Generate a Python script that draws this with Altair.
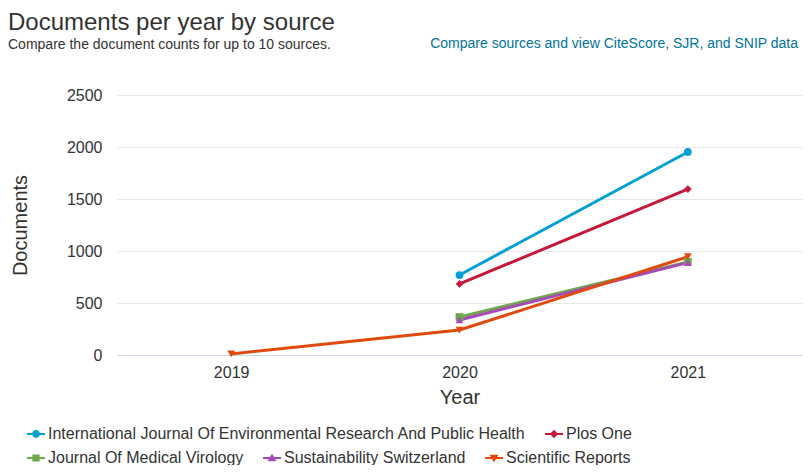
import altair as alt
import pandas as pd

sources = [
    "International Journal Of Environmental Research And Public Health",
    "Plos One",
    "Journal Of Medical Virology",
    "Sustainability Switzerland",
    "Scientific Reports",
]
colors = ["#009fd4", "#c5183a", "#6fa84b", "#a64ab8", "#e04a0f"]
shapes = ["circle", "diamond", "square", "triangle-up", "triangle-down"]
years = ["2019", "2020", "2021"]

ijerph = [None, 769, 1952]
plos = [None, 683, 1596]
jmv = [None, 365, 895]
sust = [None, 337, 888]
scirep = [10, 240, 945]

title_text = "Documents per year by source"
subtitle_text = "Compare the document counts for up to 10 sources."
link_text = "Compare sources and view CiteScore, SJR, and SNIP data"

series = [ijerph, plos, jmv, sust, scirep]
rows = []
for s, vals in zip(sources, series):
    for y, v in zip(years, vals):
        if v is not None:
            rows.append({"Source": s, "Year": y, "Documents": v})
df = pd.DataFrame(rows)

bar = "M-1.5,-0.17H1.5V0.17H-1.5Z "
leg_paths = [
    bar + "M0.65,0A0.65,0.65 0 1,1 -0.65,0A0.65,0.65 0 1,1 0.65,0Z",
    bar + "M0,-0.7L0.7,0L0,0.7L-0.7,0Z",
    bar + "M-0.6,-0.6H0.6V0.6H-0.6Z",
    bar + "M0,-0.75L0.75,0.55H-0.75Z",
    bar + "M0,0.75L-0.75,-0.55H0.75Z",
]

FONT = "Liberation Sans"
PL, PT = 109, 87  # plot offset inside the svg

xenc = alt.X("Year:O", title="Year", sort=years,
             scale=alt.Scale(type="point", padding=0.5, domain=years),
             axis=alt.Axis(labelAngle=0, labelFontSize=16, titleFontSize=20,
                           labelColor="#333333", titleColor="#333333",
                           titleFontWeight="normal", ticks=False,
                           domainColor="#ccd6eb", labelPadding=9, titlePadding=7,
                           grid=False, labelFont=FONT, titleFont=FONT))
yenc = alt.Y("Documents:Q", title="Documents",
             scale=alt.Scale(domain=[0, 2500], nice=False),
             axis=alt.Axis(values=[0, 500, 1000, 1500, 2000, 2500], format="d",
                           labelFontSize=16,
                           titleFontSize=20, labelColor="#333333", titleColor="#333333",
                           titleFontWeight="normal", domain=False, ticks=False,
                           gridColor="#e6e6e6", labelPadding=15, titlePadding=36,
                           labelFont=FONT, titleFont=FONT))

base = alt.Chart(df)

lines = base.mark_line(strokeWidth=3).encode(
    x=xenc, y=yenc,
    color=alt.Color("Source:N", scale=alt.Scale(domain=sources, range=colors), legend=None),
    detail="Source:N",
)
points = base.mark_point(filled=True, opacity=1, size=60).encode(
    x=xenc, y=yenc,
    color=alt.Color("Source:N", scale=alt.Scale(domain=sources, range=colors), legend=None),
    shape=alt.Shape("Source:N", scale=alt.Scale(domain=sources, range=shapes), legend=None),
)

def legend_layer(idx, ly):
    dom = [sources[i] for i in idx]
    leg = alt.Legend(title=None, orient="none", direction="horizontal",
                     legendX=20 - PL, legendY=ly, labelFontSize=16, labelColor="#333333",
                     labelFont=FONT, symbolSize=144, symbolStrokeWidth=0,
                     columnPadding=19, labelOffset=4, labelLimit=600)
    return base.transform_filter("datum.Documents < 0").mark_point(
        filled=True, opacity=1).encode(
        x=xenc, y=yenc,
        color=alt.Color("Source:N", scale=alt.Scale(domain=dom, range=[colors[i] for i in idx]),
                        legend=leg),
        shape=alt.Shape("Source:N", scale=alt.Scale(domain=dom, range=[leg_paths[i] for i in idx]),
                        legend=leg),
    )

leg1 = legend_layer([0, 1], 434 - 95 - 8)
leg2 = legend_layer([2, 3, 4], 458 - 95 - 8)

hdr = pd.DataFrame({"t": [title_text, subtitle_text, link_text],
                    "k": ["title", "sub", "link"]})
title_mark = alt.Chart(hdr).transform_filter("datum.k == 'title'").mark_text(
    align="left", baseline="alphabetic", fontSize=24, color="#333333", font=FONT
).encode(text="t:N", x=alt.value(0 - PL), y=alt.value(22 - PT))
sub_mark = alt.Chart(hdr).transform_filter("datum.k == 'sub'").mark_text(
    align="left", baseline="middle", fontSize=14, color="#333333", font=FONT
).encode(text="t:N", x=alt.value(0 - PL), y=alt.value(45 - 8 - PT))
link_mark = alt.Chart(hdr).transform_filter("datum.k == 'link'").mark_text(
    align="right", baseline="middle", fontSize=14, color="#007398", font=FONT
).encode(text="t:N", x=alt.value(798 - 8 - PL), y=alt.value(44 - 8 - PT))

chart = alt.layer(lines, points, leg1, leg2, title_mark, sub_mark, link_mark).resolve_scale(
    color="independent", shape="independent"
).properties(
    width=685, height=260,
    autosize=alt.AutoSizeParams(type="none"),
    padding={"left": PL, "top": PT, "right": 2, "bottom": 110},
).configure_view(stroke=None)

chart.save("out.html", embed_options={"renderer": "svg", "actions": False})
